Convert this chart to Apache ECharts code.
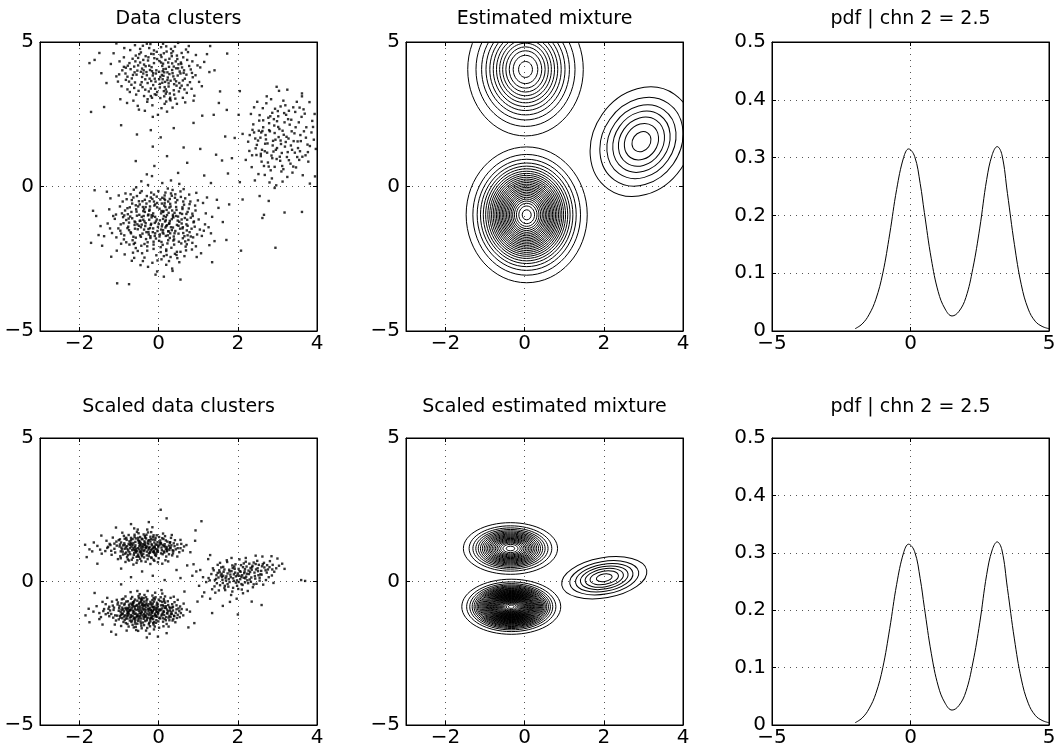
<!DOCTYPE html>
<html>
<head>
<meta charset="utf-8">
<script src="https://cdn.jsdelivr.net/npm/echarts@6/dist/echarts.min.js"></script>
<style>
  html, body { margin: 0; padding: 0; background: #fff; }
  #main { width: 1060px; height: 755px; }
</style>
</head>
<body>
<div id="main"></div>
<script>
// tick labels of the axes
const scatterXTicks = [-2, 0, 2, 4];
const scatterYTicks = [-5, 0, 5];
const pdfXTicks = [-5, 0, 5];
const pdfYTicks = [0, 0.1, 0.2, 0.3, 0.4, 0.5];

// raw data, three clusters
const rawA = [
[0.08,3.86],[-0.37,4.22],[0.54,3.41],[-0.12,4.71],[0.29,3.07],[-0.68,3.74],[0.17,4.38],[-0.25,3.29],[0.81,4.05],[-0.49,4.58],
[0.03,3.55],[0.41,4.84],[-0.83,4.11],[0.22,3.68],[-0.16,2.81],[0.63,3.93],[-0.57,3.18],[0.11,4.25],[-0.31,3.96],[1.02,3.62],
[-0.06,4.02],[0.35,2.73],[-0.94,3.47],[0.47,4.41],[-0.21,4.93],[0.71,3.24],[-0.43,3.61],[0.14,3.12],[-0.72,4.72],[0.26,4.14],
[-0.09,3.38],[0.58,4.62],[-0.35,2.62],[1.15,4.31],[-0.61,3.95],[0.05,4.55],[0.38,3.33],[-1.07,3.81],[0.19,2.94],[-0.27,4.36],
[0.86,3.78],[-0.52,4.19],[0.01,3.71],[0.44,4.09],[-0.79,3.36],[0.31,4.76],[-0.14,3.51],[0.67,2.91],[-0.4,4.87],[0.1,3.99],
[-0.88,4.47],[0.52,3.58],[-0.2,3.13],[0.94,4.55],[-0.64,2.97],[0.24,4.29],[-0.02,2.48],[0.37,3.81],[-1.21,4.24],[0.15,3.44],
[-0.46,3.52],[0.77,4.17],[-0.11,4.44],[0.28,3.22],[-0.59,4.33],[1.28,3.96],[-0.3,3.85],[0.06,4.82],[0.61,3.67],[-0.75,3.63],
[0.21,2.59],[-0.38,4.02],[0.49,4.97],[-0.97,3.02],[0.12,3.83],[-0.18,4.13],[0.83,3.38],[-0.53,2.79],[0.33,4.51],[-0.04,3.27],
[0.69,4.74],[-0.66,4.42],[0.16,3.62],[-1.32,3.58],[0.42,3.04],[-0.23,3.73],[0.98,4.19],[-0.45,4.64],[0.07,2.71],[0.56,4.29],
[-0.84,3.91],[0.27,3.89],[-0.13,4.58],[0.73,3.51],[-0.34,3.35],[1.41,4.02],[-0.71,4.06],[0.18,3.36],[-0.07,3.91],[0.46,2.86],
[-0.56,3.87],[0.34,4.03],[-1.14,4.61],[0.09,4.17],[0.62,4.47],[-0.28,3.02],[0.9,3.14],[-0.42,4.08],[0.2,4.67],[-0.8,2.89],
[0.4,3.71],[-0.15,2.41],[0.76,4.86],[-0.62,3.41],[0.02,4.34],[1.09,3.47],[-0.33,4.51],[0.3,2.98],[-0.99,4.33],[0.53,3.98],
[-0.19,3.65],[0.11,4.94],[-0.5,2.66],[0.85,4.33],[-0.24,4.18],[0.45,3.49],[-1.45,3.92],[0.18,4.07],[-0.73,3.27],[0.65,3.36],
[-0.04,4.41],[0.36,4.68],[-0.87,4.79],[0.25,3.57],[-0.39,3.91],[1.22,4.58],[-0.1,3.19],[0.59,4.12],[-0.6,4.89],[0.04,3.79],
[-0.29,2.93],[0.7,3.87],[-1.03,3.63],[0.5,4.23],[-0.17,3.99],[0.39,3.18],[-0.47,4.29],[0.88,2.97],[-0.78,4.18],[0.13,3.3],
[0.23,3.77],[-0.41,3.44],[0.57,4.24],[-0.08,3.63],[0.32,4.61],[-0.62,4.15],[0.14,3.95],[-0.26,4.47],[0.48,3.84],[-0.79,3.8],
[0.06,4.29],[0.39,3.54],[-0.54,4.01],[0.18,3.21],[-0.15,3.84],[0.72,4.38],[-0.34,3.71],[0.27,4.42],[-0.92,4.02],[0.03,3.43],
[0.61,3.07],[-0.47,4.76],[0.12,4.06],[-0.2,3.39],[0.84,3.93],[-0.69,3.52],[0.35,3.92],[-0.05,4.66],[0.46,4.53],[-0.37,3.13],
[0.09,3.59],[-0.58,4.53],[0.25,3.46],[-0.12,4.27],[0.66,3.73],[-0.3,4.94],[0.19,4.85],[-0.83,3.69],[0.51,3.29],[-0.22,4.03],
[0.01,3.97],[0.43,4.33],[-0.65,3.86],[0.15,2.86],[-0.45,3.97],[0.79,3.61],[-0.17,3.07],[0.3,3.66],[-1.0,3.88],[0.07,4.48],
[0.55,3.91],[-0.33,4.16],[0.2,3.28],[-0.74,4.27],[0.38,4.15],[-0.1,3.73],[0.93,3.85],[-0.51,3.31],[0.13,4.61],[-0.28,3.58],
[0.64,4.02],[-0.42,3.79],[0.28,3.02],[-0.06,3.17],[0.44,3.64],[-0.88,4.14],[0.1,3.71],[-0.24,4.79],[0.74,4.65],[-0.6,3.6],
[0.34,4.26],[-0.14,3.92],[0.58,3.49],[-0.39,4.38],[0.04,3.06],[1.05,4.12],[-0.52,4.45],[0.22,3.95],[-0.19,4.59],[0.49,4.09],
[-1.62,4.38],[-1.75,4.27],[-1.5,4.62],[1.55,3.29],[1.73,4.6],[-1.71,2.58],[-1.38,2.75],[1.1,2.45],[0.88,2.2],[-0.95,2.12],
[-0.2,1.95],[0.38,2.02],[1.3,4.86],[-1.07,4.95],[1.52,2.89],[-0.55,1.8],[0.63,1.35],[1.39,2.48],[1.05,1.3],[0.05,1.7]
];
const rawB = [
[0.12,-0.85],[-0.43,-1.32],[0.67,-0.41],[-0.21,-1.78],[0.35,-0.12],[-0.78,-0.96],[0.05,-2.10],[0.88,-1.24],[-0.55,-0.33],[0.24,-1.55],
[-0.09,-0.62],[0.51,-1.91],[-1.02,-1.45],[0.31,0.21],[-0.36,-2.46],[0.73,-0.88],[-0.18,-1.07],[1.12,-0.57],[-0.66,-1.86],[0.08,-1.38],
[-0.27,0.05],[0.44,-1.02],[-0.91,-0.52],[0.19,-2.71],[0.62,-1.61],[-0.48,-1.19],[1.35,-1.05],[-0.12,-0.28],[0.27,-0.73],[-1.25,-0.79],
[0.03,-1.66],[-0.58,-2.13],[0.95,-0.22],[-0.33,-0.71],[0.41,-2.33],[-0.75,-1.51],[0.16,-0.47],[0.58,-1.28],[-0.04,-2.94],[-1.38,-1.72],
[0.81,-1.73],[-0.22,-1.44],[0.36,-0.98],[-0.63,-0.11],[1.04,-1.49],[-0.14,-0.93],[0.22,-1.97],[-0.86,-2.35],[0.49,0.47],[-0.41,-1.63],
[0.68,-2.08],[-1.11,-1.12],[0.09,-0.39],[-0.29,-2.22],[0.93,-0.83],[-0.52,-0.69],[0.31,-1.41],[-0.07,-1.21],[1.28,-2.03],[-0.71,-0.27],
[0.15,-0.58],[-0.38,-1.02],[0.55,-0.17],[-0.95,-1.98],[0.26,-2.58],[-0.17,0.36],[0.72,-1.15],[-0.61,-1.33],[0.02,-0.77],[1.51,-0.74],
[-0.46,-2.72],[0.39,-1.83],[-1.22,-0.41],[0.11,-1.12],[0.64,-0.63],[-0.26,-1.58],[-0.82,-1.16],[0.47,-2.48],[-0.01,-0.16],[0.85,-1.95],
[-0.56,-0.87],[0.18,-1.71],[-0.35,-0.46],[1.17,-1.31],[-1.47,-1.37],[0.33,-0.32],[-0.13,-2.01],[0.59,-0.95],[-0.68,-2.57],[0.06,-1.49],
[-0.24,-0.84],[0.77,-0.28],[-0.87,-1.69],[0.28,-1.19],[-0.44,0.18],[0.97,-1.66],[-0.06,-2.38],[-0.53,-1.48],[0.43,-0.55],[1.41,-1.89],
[-0.19,-1.29],[0.54,-1.46],[-0.98,-0.69],[0.13,-3.12],[-0.31,-0.59],[0.69,-2.21],[-0.72,-1.04],[0.23,-0.07],[-1.58,-1.02],[0.37,-1.07],
[0.01,-1.88],[-0.47,-0.22],[0.86,-1.02],[-0.16,-2.64],[1.22,-0.38],[-0.64,-1.74],[0.29,-1.62],[-0.39,-1.15],[0.61,-1.79],[-1.06,-2.22],
[0.14,-0.66],[-0.28,-1.93],[0.78,-0.61],[-0.81,-0.44],[0.48,-1.18],[-0.11,0.71],[0.34,-2.84],[-0.59,-1.24],[1.07,-2.31],[-0.23,-0.51],
[0.21,-1.34],[-0.74,-2.01],[0.63,-0.09],[-0.34,-1.37],[0.07,-2.52],[-1.31,-0.18],[0.91,-1.39],[-0.49,-0.98],[0.25,-0.91],[-0.03,-1.54],
[0.52,-2.62],[-0.89,-1.27],[0.17,-0.21],[-0.42,-2.31],[1.62,-1.23],[-0.15,-1.02],[0.71,-1.52],[-0.67,-0.59],[0.38,-1.73],[-1.18,-1.61],
[0.04,-0.45],[-0.25,-1.66],[0.84,-2.18],[-0.57,-0.03],[0.45,-0.81],[-0.08,-3.05],[1.19,-0.93],[-0.77,-1.39],[0.32,-2.12],[-0.37,-0.78],
[0.66,-1.09],[-1.43,-2.05],[0.1,-1.59],[-0.2,-0.38],[0.57,-1.97],[-0.93,-0.93],[0.27,-1.27],[-0.62,-2.47],[0.99,-0.48],[-0.05,-1.14],
[0.42,-0.27],[-0.32,-1.82],[0.75,-1.85],[-0.84,-0.24],[0.19,-2.23],[-1.66,-0.84],[0.6,-0.72],[-0.45,-1.41],[0.09,0.12],[1.32,-1.62],
[-0.1,-1.71],[0.5,-1.36],[-0.7,-1.62],[0.3,-0.69],[-0.27,-2.78],[0.89,-1.21],[-1.01,-0.31],[0.13,-1.02],[-0.5,-0.51],[0.65,-2.41],
[-0.18,-0.99],[1.47,-0.46],[-0.6,-1.95],[0.24,-1.86],[-0.36,-1.21],[0.8,-0.52],[-1.2,-2.43],[0.0,-1.3],[0.4,-1.62],[-0.79,-0.75],
[0.56,-0.36],[-0.13,-2.16],[0.94,-2.07],[-0.43,-0.16],[0.17,-1.42],[-0.97,-1.53],[0.35,-2.92],[-0.22,-0.69],[1.09,-1.71],[-0.54,-1.31],
[0.28,-0.43],[-0.65,-2.29],[0.7,-0.95],[-0.09,-1.62],[-1.29,-1.28],[0.46,-2.26],[-0.3,0.42],[0.83,-1.46],[-0.76,-1.11],[0.11,-0.88],
[0.61,-1.41],[-0.4,-2.58],[1.26,-1.41],[-0.12,-0.52],[0.36,-1.04],[-0.88,-1.83],[0.2,-2.37],[-0.58,-0.65],[0.73,-1.69],[-1.52,-1.68],
[0.07,-1.92],[-0.26,-1.47],[0.52,0.09],[-0.69,-0.88],[0.33,-1.51],[-0.04,-0.57],[0.96,-2.44],[-0.45,-1.74],[0.18,-1.17],[-1.08,-0.97],
[0.18,-1.06],[-0.35,-0.88],[0.52,-1.22],[-0.14,-1.45],[0.29,-0.6],[-0.61,-1.21],[0.06,-0.93],[0.73,-1.36],[-0.47,-1.69],[0.15,-0.31],
[-0.24,-1.15],[0.42,-1.54],[-0.85,-0.83],[0.1,-2.02],[-0.04,-0.72],[0.6,-0.78],[-0.41,-0.51],[0.26,-1.29],[-0.71,-1.58],[0.37,-1.87],
[-0.16,-0.43],[0.81,-1.08],[-0.55,-1.01],[0.02,-1.73],[0.47,-0.47],[-0.29,-2.07],[0.2,-0.81],[-0.96,-1.31],[0.65,-1.72],[-0.1,-1.26],
[0.33,-1.13],[-0.64,-0.38],[0.11,-1.51],[-0.37,-1.49],[0.92,-0.66],[-0.19,-0.21],[0.55,-2.26],[-0.82,-1.93],[0.24,-0.52],[-0.07,-1.8],
[0.4,-0.91],[-0.5,-1.36],[0.08,-0.59],[-0.26,-0.97],[0.7,-1.31],[-1.15,-1.02],[0.16,-1.21],[-0.44,-2.05],[0.5,-1.63],[-0.02,-1.4],
[0.31,-0.24],[-0.73,-0.72],[0.13,-2.41],[-0.33,-1.27],[0.78,-1.58],[-0.58,-1.77],[0.21,-0.99],[-0.11,-0.66],[0.46,-1.33],[-0.9,-1.06],
[0.03,-1.17],[0.62,-0.52],[-0.39,-0.85],[0.28,-1.78],[-0.21,-1.72],[1.01,-1.14],[-0.67,-1.1],[0.17,-0.71],[-0.48,-0.62],[0.39,-2.01],
[-0.05,-0.35],[0.58,-1.14],[-0.79,-1.44],[0.25,-1.55],[-0.31,-1.58],[0.85,-0.94],[-1.07,-1.76],[0.09,-1.31],[-0.53,-2.23],[0.44,-0.71],
[-0.13,-1.91],[0.67,-1.9],[-0.43,-1.05],[0.19,-2.18],[-0.68,-0.47],[0.34,-0.83],[-0.23,-0.8],[0.76,-0.76],[-0.6,-1.46],[0.05,-2.27],
[0.49,-1.04],[-0.36,-1.99],[0.14,-0.42],[-0.87,-1.0],[0.6,-1.45],[-0.09,-1.05],[0.3,-2.44],[-0.46,-1.18],[1.14,-1.53],[-0.2,-1.33],
[0.23,-1.69],[-0.75,-1.25],[0.41,-0.39],[-0.03,-2.56],[-0.57,-0.79],[0.71,-2.0],[-0.3,-0.33],[0.12,-1.63],[-1.23,-1.45],[0.54,-0.92],
[-0.15,-1.58],[0.36,-1.42],[-0.63,-1.99],[0.87,-1.76],[-0.4,-0.71],[0.07,-0.85],[-0.95,-1.63],[0.45,-2.37],[-0.27,-1.0],[0.19,-1.37],
[1.78,-0.62],[-1.71,-1.95],[1.35,-2.62],[-1.05,-3.35],[-0.75,-3.38],[0.55,-3.22],[1.15,0.38],[-1.62,-0.13],[1.71,-1.85],[-0.58,0.88],
[0.21,1.05],[0.72,0.82],[-0.15,1.38],[1.32,0.12]
];
const rawC = [
[2.95,1.62],[3.31,2.14],[2.58,1.05],[3.12,0.71],[2.77,2.38],[3.52,1.33],[2.41,1.87],[3.08,2.77],[2.86,0.28],[3.67,1.91],
[2.69,1.48],[3.24,1.02],[2.33,2.51],[3.45,2.58],[2.9,1.21],[3.78,0.86],[2.52,0.43],[3.16,1.79],[2.73,3.12],[3.59,1.57],
[3.02,2.06],[2.45,1.32],[3.38,0.48],[2.81,1.91],[3.88,2.27],[2.63,2.71],[3.19,1.38],[2.2,0.92],[3.49,2.93],[2.98,0.95],
[3.28,1.66],[2.57,1.69],[3.71,1.08],[2.87,2.55],[3.13,0.17],[2.39,2.15],[3.61,2.41],[2.74,1.17],[3.04,3.31],[3.92,1.62],
[2.66,0.71],[3.35,2.31],[2.26,1.55],[3.09,1.47],[2.83,0.56],[3.55,0.92],[2.49,2.93],[3.22,2.48],[2.93,1.85],[3.81,2.92],
[2.61,1.27],[3.43,1.84],[2.97,0.04],[3.15,2.97],[2.35,0.67],[3.64,0.39],[2.79,2.19],[3.26,1.19],[2.54,2.28],[3.97,1.3],
[3.06,1.03],[2.71,1.63],[3.4,2.74],[2.88,1.42],[2.12,1.82],[3.51,1.56],[2.76,0.83],[3.18,2.22],[3.73,2.05],[2.47,1.09],
[3.33,0.79],[2.91,2.33],[3.57,1.22],[2.64,2.05],[3.1,0.52],[3.86,1.87],[2.43,0.21],[3.29,2.62],[2.99,1.33],[3.66,2.67],
[2.59,1.87],[3.21,1.54],[2.84,3.02],[3.47,0.66],[2.29,1.23],[3.02,2.43],[3.76,1.45],[2.68,0.4],[3.36,1.91],[2.94,2.69],
[3.62,3.12],[2.51,1.59],[3.11,1.16],[2.8,0.14],[3.94,2.51],[2.37,1.96],[3.44,1.17],[3.05,1.99],[2.72,2.88],[3.25,0.33],
[3.03,1.71],[2.62,1.92],[3.37,1.27],[2.85,1.07],[3.54,2.22],[2.48,1.44],[3.17,2.54],[2.78,0.69],[3.72,1.69],[2.92,2.11],
[3.29,0.91],[2.55,2.47],[3.63,1.03],[2.7,1.78],[3.13,1.93],[2.36,1.08],[3.46,2.05],[2.89,1.58],[3.82,1.4],[2.6,0.86],
[3.2,2.81],[2.96,1.27],[3.58,1.78],[2.44,1.66],[3.07,0.89],[2.82,2.43],[3.41,1.57],[2.68,1.22],[3.9,2.06],[2.99,2.26],
[3.34,1.42],[2.53,1.93],[3.15,0.6],[2.75,1.49],[3.69,2.52],[2.41,2.74],[3.23,1.72],[2.87,0.98],[3.5,1.02],[2.64,2.29],
[3.08,1.59],[3.77,1.19],[2.3,1.78],[3.27,2.33],[2.93,0.68],[3.56,2.73],[2.58,1.13],[3.01,2.61],[3.4,0.69],[2.79,1.95],
[3.25,3.35],[3.62,3.22],[2.98,3.45],[2.02,2.48],[1.92,1.68],[1.85,0.98],[2.05,0.15],[2.12,-0.45],[2.66,-0.98],[2.62,-1.09],
[2.95,-2.12],[2.08,-2.22],[3.62,-0.88],[3.18,-0.9],[2.78,-0.5],[1.6,0.9],[1.45,1.1],[1.72,2.65],[1.68,1.73],[2.05,3.3],
[3.95,0.35],[2.93,-0.05],[2.55,-0.33],[3.82,0.1],[1.75,0.45]
];

// scaled data, three clusters
const scaledA = [
[-0.31,1.18],[-0.72,0.95],[0.05,1.34],[-0.52,1.52],[-0.18,0.82],[-0.86,1.27],[0.21,1.05],[-0.44,0.71],[-0.05,1.61],[-0.63,1.11],
[-0.27,1.42],[0.34,0.91],[-0.97,0.88],[-0.12,1.21],[-0.55,1.73],[0.12,1.48],[-0.39,0.96],[-0.81,1.45],[-0.02,0.67],[-0.48,1.29],
[0.26,1.25],[-0.68,0.76],[-0.22,1.02],[-1.12,1.14],[-0.35,1.58],[0.43,1.12],[-0.59,1.38],[-0.09,0.93],[-0.76,1.62],[0.08,1.09],
[-0.41,1.24],[-0.91,1.04],[0.17,0.74],[-0.29,1.81],[-0.64,0.59],[0.02,1.28],[-0.46,1.07],[-1.24,1.31],[-0.15,1.46],[0.38,1.33],
[-0.53,0.89],[-0.83,1.19],[-0.21,0.61],[0.11,1.67],[-0.7,1.44],[-0.37,0.84],[0.29,1.17],[-1.03,0.78],[-0.06,1.13],[-0.51,1.68],
[-0.26,1.31],[0.52,1.02],[-0.78,0.92],[-0.14,1.55],[-0.6,1.2],[0.19,0.87],[-0.43,1.49],[-1.35,1.06],[-0.03,1.37],[-0.88,1.59],
[-0.33,0.69],[0.07,1.18],[-0.57,1.01],[-0.19,1.72],[-0.95,1.36],[0.31,1.52],[-0.47,0.79],[-0.11,0.99],[-0.73,1.27],[0.64,1.22],
[-0.36,1.09],[-1.16,1.53],[0.0,0.81],[-0.62,1.85],[-0.24,1.16],[0.22,1.39],[-0.84,0.68],[-0.45,1.33],[-0.08,1.52],[-0.52,0.94],
[0.14,1.01],[-0.99,1.22],[-0.3,0.91],[0.41,1.44],[-0.67,1.09],[-0.17,1.26],[-1.44,0.97],[-0.38,1.64],[0.09,0.62],[-0.79,1.13],
[-0.5,1.41],[0.27,1.1],[-0.13,0.76],[-0.92,1.7],[-0.28,1.35],[0.57,1.31],[-0.65,0.83],[-0.04,1.04],[-1.07,1.39],[-0.4,1.19],
[0.16,1.58],[-0.74,1.02],[-0.2,1.48],[-0.56,0.65],[0.36,0.98],[-0.87,1.33],[-0.1,1.15],[-1.28,1.21],[-0.42,0.88],[0.04,1.43],
[-0.61,1.56],[-0.25,0.97],[0.48,1.16],[-0.8,0.85],[-0.34,1.27],[-1.55,1.24],[0.13,1.23],[-0.49,1.12],[-0.16,1.89],[-0.71,1.35],
[0.24,0.7],[-0.93,1.12],[-0.32,1.5],[-0.07,0.89],[-0.58,1.05],[0.7,1.27],[-1.19,0.93],[-0.23,1.2],[0.06,1.32],[-0.66,1.48],
[-0.44,1.02],[0.33,1.62],[-1.01,1.44],[-0.12,1.07],[-0.54,0.74],[0.18,1.14],[-0.85,0.97],[-0.31,1.63],[-1.64,1.36],[0.47,0.87],
[-0.01,1.24],[-0.69,1.22],[-0.19,0.84],[-1.1,1.01],[0.28,1.35],[-0.47,1.55],[-0.77,1.08],[0.1,0.95],[-0.36,1.4],[-0.96,0.81],
[-0.26,1.11],[0.55,1.45],[-0.62,0.99],[-1.32,1.42],[-0.08,1.29],[-0.5,0.86],[0.2,1.2],[-0.82,1.52],[-0.4,1.3],[0.37,1.06],
[-1.22,1.27],[-0.15,1.03],[-0.59,1.26],[0.01,1.55],[-0.75,0.73],[-0.33,1.16],[0.61,1.08],[-0.98,1.47],[-0.21,1.39],[-0.45,0.98],
[-1.48,1.11],[0.15,1.3],[-0.64,1.17],[-0.11,0.72],[0.8,1.02],[-0.9,1.26],[-0.28,0.78],[0.32,1.26],[-0.53,1.81],[-1.75,1.12],
[-0.38,1.06],[-0.69,1.31],[-0.06,0.97],[-0.49,1.22],[-0.21,1.56],[-0.82,1.01],[0.16,1.22],[-0.43,0.92],[-0.11,1.36],[-0.61,1.63],
[-0.3,1.04],[0.29,1.37],[-0.94,1.18],[-0.17,1.12],[-0.56,0.86],[0.09,1.51],[-0.35,1.35],[-0.78,0.77],[-0.01,1.19],[-0.52,1.44],
[0.22,1.14],[-0.66,1.27],[-0.25,0.88],[-1.06,1.25],[-0.41,1.47],[0.4,1.23],[-0.57,1.13],[-0.13,1.61],[-0.74,1.4],[0.06,0.98],
[-0.46,1.26],[-0.86,1.49],[0.13,1.05],[-0.27,1.71],[-0.63,0.93],[-0.03,1.1],[-0.44,1.18],[-1.2,1.07],[-0.18,1.3],[0.35,1.09],
[-0.5,1.35],[-0.8,1.23],[-0.23,1.0],[0.1,1.27],[-0.72,1.16],[-0.34,1.53],[0.26,0.95],[-0.98,1.29],[-0.09,1.45],[-0.55,1.06],
[-0.29,1.22],[0.47,1.29],[-0.76,1.31],[-0.15,1.17],[-0.58,1.5],[0.18,1.43],[-0.42,1.11],[-1.3,1.17],[-0.05,1.28],[-0.9,0.94],
[-0.36,1.28],[0.03,1.36],[-0.6,1.08],[-0.2,1.09],[-0.96,1.05],[0.3,1.18],[-0.48,1.03],[-0.1,1.21],[-0.7,1.52],[0.55,1.16],
[-0.33,1.21],[-1.12,1.32],[-0.02,1.05],[-0.64,1.34],[-0.24,1.44],[0.2,1.08],[-0.86,1.14],[-0.47,1.39],[-0.12,1.03],[-0.53,1.16],
[-1.82,0.85],[-1.86,1.28],[-1.68,1.05],[0.92,1.42],[1.08,2.1],[0.93,1.78],[0.2,2.2],[0.05,2.5],[-0.25,2.07],[-0.7,2.0],
[-1.08,1.88],[-1.45,1.6],[0.72,0.56],[0.45,0.4],[-0.95,0.45],[-0.42,0.35],[1.25,0.78],[1.3,0.92],[0.88,0.6],[-1.55,0.62]
];
const scaledB = [
[-0.35,-0.82],[-0.78,-1.06],[0.04,-0.68],[-0.51,-1.31],[-0.16,-0.49],[-0.92,-0.91],[0.22,-1.12],[-0.43,-0.56],[-0.07,-1.44],[-0.64,-0.75],
[-0.26,-1.03],[0.36,-0.88],[-1.05,-1.19],[-0.11,-0.95],[-0.58,-1.58],[0.13,-0.61],[-0.38,-1.24],[-0.84,-0.52],[-0.01,-1.08],[-0.47,-0.87],
[0.27,-1.35],[-0.69,-1.41],[-0.21,-0.71],[-1.16,-0.84],[-0.32,-1.71],[0.45,-0.97],[-0.6,-0.63],[-0.08,-1.22],[-0.77,-1.19],[0.09,-0.42],
[-0.42,-1.06],[-0.95,-1.55],[0.18,-0.86],[-0.28,-0.33],[-0.65,-1.02],[0.01,-1.61],[-0.49,-0.74],[-1.28,-1.1],[-0.14,-1.31],[0.39,-1.19],
[-0.54,-1.47],[-0.86,-0.77],[-0.2,-0.99],[0.12,-1.03],[-0.71,-0.37],[-0.37,-1.52],[0.3,-0.57],[-1.01,-1.32],[-0.05,-0.81],[-0.52,-0.96],
[-0.25,-1.16],[0.53,-1.24],[-0.79,-1.29],[-0.13,-0.58],[-0.61,-1.13],[0.2,-1.48],[-0.44,-0.67],[-1.38,-0.96],[-0.02,-1.14],[-0.89,-0.6],
[-0.33,-0.9],[0.07,-0.3],[-0.57,-1.69],[-0.18,-0.83],[-0.96,-1.07],[0.32,-1.06],[-0.46,-1.39],[-0.1,-1.57],[-0.74,-0.88],[0.63,-0.77],
[-0.36,-0.47],[-1.18,-0.7],[-0.03,-0.97],[-0.63,-1.26],[-0.23,-1.82],[0.23,-0.69],[-0.83,-1.45],[-0.45,-1.01],[-0.09,-0.39],[-0.53,-1.21],
[0.15,-0.92],[-1.0,-0.93],[-0.3,-1.35],[0.42,-1.42],[-0.67,-0.54],[-0.17,-1.09],[-1.46,-1.24],[-0.39,-0.78],[0.1,-1.28],[-0.8,-1.12],
[-0.5,-0.58],[0.28,-1.01],[-0.12,-1.67],[-0.94,-0.99],[-0.29,-0.62],[0.56,-1.1],[-0.66,-1.51],[-0.04,-0.74],[-1.08,-1.36],[-0.41,-1.18],
[0.16,-0.52],[-0.75,-0.81],[-0.2,-1.27],[-0.56,-0.99],[0.37,-1.31],[-0.88,-1.22],[-0.11,-0.88],[-1.3,-0.57],[-0.43,-1.63],[0.05,-1.0],
[-0.62,-0.69],[-0.24,-1.44],[0.48,-0.64],[-0.81,-1.71],[-0.34,-1.07],[-1.57,-0.86],[0.14,-1.17],[-0.48,-0.44],[-0.15,-1.03],[-0.72,-1.01],
[0.25,-1.57],[-0.93,-0.62],[-0.31,-0.76],[-0.06,-1.35],[-0.59,-1.33],[0.71,-0.98],[-1.2,-1.13],[-0.22,-0.92],[0.06,-0.83],[-0.68,-0.91],
[-0.45,-1.29],[0.34,-0.79],[-1.03,-0.73],[-0.13,-1.5],[-0.55,-0.82],[0.19,-1.24],[-0.86,-1.34],[-0.32,-0.55],[-1.65,-1.05],[0.46,-1.27],
[0.0,-0.63],[-0.7,-1.17],[-0.19,-1.17],[-1.11,-1.5],[0.29,-0.93],[-0.47,-0.94],[-0.78,-0.69],[0.11,-1.4],[-0.37,-1.14],[-0.97,-1.26],
[-0.27,-0.86],[0.54,-0.87],[-0.63,-1.6],[-1.34,-0.79],[-0.07,-1.19],[-0.51,-0.51],[0.21,-1.09],[-0.83,-0.97],[-0.4,-1.43],[0.38,-0.53],
[-1.23,-1.01],[-0.16,-0.65],[-0.6,-0.96],[0.02,-1.26],[-0.76,-1.57],[-0.34,-1.23],[0.62,-1.18],[-0.99,-0.85],[-0.22,-1.56],[-0.46,-0.71],
[-1.5,-1.31],[0.16,-0.74],[-0.65,-1.1],[-0.1,-1.12],[0.79,-1.05],[-0.91,-1.12],[-0.29,-1.62],[0.31,-1.14],[-0.54,-0.33],[-1.77,-0.95],
[-0.39,-0.98],[-0.85,-1.18],[0.08,-0.94],[-0.58,-0.85],[-0.15,-0.77],[-0.73,-1.36],[0.24,-0.82],[-0.3,-1.28],[-1.14,-0.99],[-0.48,-1.09],
[-0.04,-1.06],[-0.66,-0.78],[0.43,-1.09],[-0.21,-1.39],[-0.89,-1.41],[-0.42,-0.63],[0.12,-1.56],[-0.6,-1.4],[-1.25,-1.21],[-0.25,-0.97],
[-0.08,-0.55],[-0.53,-1.15],[0.35,-1.36],[-0.79,-0.92],[-0.37,-0.7],[-1.06,-0.64],[0.03,-1.29],[-0.7,-1.23],[-0.18,-1.24],[0.5,-0.94],
[-0.95,-1.16],[-0.44,-1.54],[-0.14,-0.9],[-0.62,-1.05],[0.27,-1.2],[-1.42,-0.71],[-0.33,-1.0],[0.09,-0.71],[-0.76,-1.14],[-0.52,-1.72],
[-0.4,-0.86],[-0.73,-0.98],[0.01,-1.01],[-0.55,-1.19],[-0.19,-0.77],[-0.88,-1.04],[0.18,-0.92],[-0.45,-0.61],[-0.09,-1.16],[-0.67,-0.82],
[-0.29,-1.12],[0.33,-1.13],[-1.01,-1.02],[-0.14,-1.21],[-0.6,-1.27],[0.1,-0.82],[-0.36,-0.97],[-0.82,-0.7],[-0.03,-0.89],[-0.5,-0.79],
[0.24,-1.04],[-0.72,-1.26],[-0.24,-0.79],[-1.13,-0.91],[-0.34,-1.38],[0.4,-0.72],[-0.61,-0.89],[-0.07,-0.99],[-0.8,-1.01],[0.07,-1.19],
[-0.44,-1.1],[-0.92,-1.28],[0.15,-1.3],[-0.31,-0.67],[-0.66,-1.2],[-0.01,-1.39],[-0.5,-1.02],[-1.25,-0.88],[-0.17,-1.07],[0.36,-1.01],
[-0.56,-1.24],[-0.84,-0.92],[-0.22,-1.32],[0.1,-1.11],[-0.7,-0.6],[-0.38,-1.3],[0.27,-0.89],[-0.98,-1.2],[-0.06,-0.92],[-0.54,-0.67],
[-0.27,-0.95],[0.48,-1.16],[-0.77,-1.09],[-0.12,-0.7],[-0.63,-1.31],[0.18,-1.35],[-0.42,-0.82],[-1.34,-1.14],[-0.04,-1.23],[-0.87,-0.81],
[-0.35,-1.18],[0.05,-0.55],[-0.59,-1.47],[-0.2,-1.01],[-0.94,-0.76],[0.3,-1.24],[-0.47,-1.21],[-0.12,-1.41],[-0.75,-1.04],[0.58,-0.96],
[-0.38,-0.58],[-1.15,-1.26],[-0.02,-0.8],[-0.65,-0.72],[-0.25,-1.49],[0.21,-0.98],[-0.81,-1.21],[-0.46,-1.14],[-0.1,-0.62],[-0.52,-1.37],
[0.13,-1.06],[-1.04,-0.8],[-0.32,-1.2],[0.39,-1.21],[-0.69,-0.98],[-0.18,-1.29],[-1.4,-1.03],[-0.41,-0.93],[0.08,-1.15],[-0.83,-1.29],
[-0.52,-0.88],[0.25,-1.26],[-0.14,-1.45],[-0.92,-1.13],[-0.3,-0.81],[0.52,-1.03],[-0.68,-1.36],[-0.06,-1.06],[-1.1,-1.18],[-0.43,-0.76],
[0.14,-0.68],[-0.77,-0.95],[-0.23,-1.1],[-0.58,-1.12],[0.34,-0.91],[-0.9,-0.97],[-0.13,-0.99],[-1.27,-0.95],[-0.45,-1.46],[0.03,-0.97],
[-0.64,-0.86],[-0.26,-1.26],[0.45,-0.83],[-0.79,-1.48],[-0.36,-0.84],[-1.5,-1.1],[0.12,-0.86],[-0.49,-1.25],[-0.16,-0.88],[-0.71,-0.77],
[-1.75,-1.42],[-1.85,-1.18],[-1.2,-1.75],[-1.08,-1.85],[-0.02,-1.92],[0.2,-1.8],[0.9,-1.45],[0.98,-0.7],[1.1,-0.52],[0.65,-0.35],
[-0.95,-0.1],[-0.7,0.15],[-0.15,0.2],[0.15,0.05],[0.55,0.12],[1.35,-1.1],[-1.42,-1.5],[0.75,-1.6],[-0.3,-1.95],[-1.62,-0.4]
];
const scaledC = [
[1.95,0.18],[2.31,0.33],[1.62,-0.05],[2.12,-0.12],[1.78,0.41],[2.52,0.22],[1.41,-0.17],[2.08,0.57],[1.86,-0.35],[2.67,0.49],
[1.69,0.12],[2.24,0.04],[1.33,0.26],[2.45,0.61],[1.9,0.02],[2.78,0.15],[1.52,-0.31],[2.16,0.29],[1.73,0.68],[2.59,0.37],
[2.02,0.44],[1.45,0.09],[2.38,-0.2],[1.81,0.24],[2.88,0.58],[1.63,0.51],[2.19,0.11],[1.2,-0.02],[2.49,0.72],[1.98,-0.15],
[2.28,0.26],[1.57,0.21],[2.71,0.05],[1.87,0.47],[2.13,-0.41],[1.39,0.39],[2.61,0.53],[1.74,-0.09],[2.04,0.77],[2.92,0.34],
[1.66,-0.23],[2.35,0.41],[1.26,0.12],[2.09,0.16],[1.83,-0.47],[2.55,0.03],[1.49,0.58],[2.22,0.52],[1.93,0.31],[2.81,0.71],
[1.61,0.06],[2.43,0.19],[1.97,-0.6],[2.15,0.63],[1.35,-0.27],[2.64,-0.11],[1.79,0.35],[2.26,-0.06],[1.54,0.32],[2.97,0.46],
[2.06,0.08],[1.71,0.18],[2.4,0.66],[1.88,0.11],[1.12,0.15],[2.51,0.36],[1.76,-0.18],[2.18,0.43],[2.73,0.31],[1.47,-0.06],
[2.33,-0.01],[1.91,0.52],[2.57,0.25],[1.64,0.34],[2.1,-0.28],[2.86,0.21],[1.43,-0.39],[2.29,0.62],[1.99,0.21],[2.66,0.65],
[1.59,0.27],[2.21,0.17],[1.84,0.82],[2.47,-0.08],[1.29,0.04],[2.02,-0.02],[2.76,0.42],[1.68,-0.3],[2.36,0.5],[1.94,0.6],
[2.62,0.87],[1.51,0.14],[2.11,0.22],[1.8,-0.71],[3.04,0.55],[1.37,0.46],[2.44,0.1],[2.05,0.36],[1.72,0.74],[2.25,-0.33],
[2.04,0.2],[1.7,0.03],[2.34,0.14],[1.84,0.36],[2.5,0.46],[1.55,-0.13],[2.18,-0.03],[1.92,0.44],[2.7,0.39],[1.46,0.22],
[2.27,0.38],[1.77,0.08],[2.42,0.31],[1.98,0.04],[2.63,0.6],[1.6,0.16],[2.13,0.5],[1.88,-0.22],[2.55,0.13],[1.66,0.42],
[2.23,0.27],[1.42,0.05],[2.37,0.55],[2.0,0.28],[2.8,0.5],[1.74,0.28],[2.09,-0.09],[1.53,0.39],[2.46,0.42],[1.95,-0.04],
[2.3,0.07],[1.82,0.15],[2.6,0.24],[1.67,-0.15],[2.15,0.13],[2.74,0.57],[1.49,0.3],[2.2,0.69],[1.9,0.25],[2.4,-0.1],
[1.58,0.49],[2.07,0.34],[2.53,0.58],[1.79,-0.02],[2.32,0.47],[2.01,-0.26],[1.63,0.2],[2.87,0.42],[2.17,0.35],[1.86,0.56],
[3.12,0.62],[3.18,0.44],[3.6,0.05],[3.7,0.02],[2.2,0.82],[2.85,0.88],[2.9,-0.05],[1.05,0.4],[1.02,-0.15],[0.95,0.35],
[1.3,-0.6],[1.62,-0.85],[2.0,-1.15],[2.6,-0.82],[2.35,-0.7],[3.0,0.8],[1.15,-0.38],[0.85,0.2],[1.55,0.65],[2.45,0.9]
];

// estimated mixture: component centres, outer contour radii, tilt (deg), contour ring fractions
const ringsA = [1, .857, .760, .684, .618, .558, .502, .448, .395, .340, .281, .213, .120];
const ringsB = [1, .889, .818, .763, .717, .678, .642, .610, .581, .553, .526, .500, .476, .451, .428, .404, .381, .358, .334, .310, .285, .259, .232, .203, .170, .130, .074];
const ringsC = [1, .81, .674, .559, .449, .333, .185];
const ringsD = [1, .902, .839, .791, .752, .718, .689, .662, .637, .615, .593, .573, .554, .536, .518, .501, .484, .468, .452, .437, .421, .406, .391, .376, .361, .346, .331, .316, .300, .285, .269, .253, .235, .217, .199, .179, .156, .131, .101, .058];
const ringsE = [1, .878, .798, .736, .684, .638, .597, .558, .522, .488, .454, .421, .389, .355, .322, .287, .249, .208, .159, .090];

const mixCenters = [[0.02, 4.05], [0.05, -0.98], [2.95, 1.55]];
const mixRadii = [[1.46, 2.3], [1.53, 2.35], [1.21, 2.0]];
const mixTilt = [0, 0, -35];
const mixRings = [ringsA, ringsB, ringsC];

const scaledMixCenters = [[-0.36, 1.15], [-0.34, -0.88], [2.01, 0.13]];
const scaledMixRadii = [[1.19, 0.9], [1.25, 0.96], [1.09, 0.7]];
const scaledMixTilt = [0, 0, 10];
const scaledMixRings = [ringsE, ringsD, ringsC];

// conditional pdf
const pdfX = [-2, -1.75, -1.5, -1.25, -1, -0.75, -0.5, -0.25, -0.07, 0.15, 0.35, 0.5, 0.75, 1, 1.25, 1.5, 1.75, 2, 2.25, 2.5, 2.75, 2.95, 3.13, 3.3, 3.5, 3.75, 4, 4.25, 4.5, 4.75, 5];
const pdfY = [0.004, 0.012, 0.028, 0.055, 0.100, 0.168, 0.245, 0.300, 0.315, 0.302, 0.255, 0.205, 0.125, 0.068, 0.038, 0.026, 0.034, 0.058, 0.108, 0.178, 0.262, 0.305, 0.319, 0.305, 0.238, 0.150, 0.080, 0.038, 0.017, 0.008, 0.004];

const titles = ['Data clusters', 'Estimated mixture', 'pdf | chn 2 = 2.5',
                'Scaled data clusters', 'Scaled estimated mixture', 'pdf | chn 2 = 2.5'];

const FONT = "'DejaVu Sans', 'Liberation Sans', Arial, sans-serif";
const colLeft = [40, 406, 772];
const rowTop = [42, 438];
const rowHeight = [289, 287];
const panelWidth = 277;

function minus(v) {
  return String(v).replace('-', '\u2212');
}

function ringData(centers, radii, tilt, rings) {
  const out = [];
  centers.forEach(function (c, i) {
    rings[i].forEach(function (f) {
      out.push([c[0], c[1], radii[i][0] * f, radii[i][1] * f, tilt[i]]);
    });
  });
  return out;
}

function ringItem(params, api) {
  const c = api.coord([api.value(0), api.value(1)]);
  const s = api.size([api.value(2), api.value(3)]);
  return {
    type: 'ellipse',
    x: c[0],
    y: c[1],
    rotation: api.value(4) * Math.PI / 180,
    shape: { cx: 0, cy: 0, rx: s[0], ry: s[1] },
    style: { fill: 'none', stroke: '#000', lineWidth: 1 }
  };
}

const grid = [], xAxis = [], yAxis = [], title = [];
for (let p = 0; p < 6; p++) {
  const r = Math.floor(p / 3), c = p % 3;
  const isPdf = c === 2;
  const xr = isPdf ? [-5, 5] : [-3, 4];
  const yr = isPdf ? [0, 0.5] : [-5, 5];
  const xt = isPdf ? pdfXTicks : scatterXTicks;
  const yt = isPdf ? pdfYTicks : scatterYTicks;

  grid.push({
    left: colLeft[c], top: rowTop[r], width: panelWidth, height: rowHeight[r],
    show: true, borderColor: '#000', borderWidth: 1
  });
  title.push({
    text: titles[p],
    left: colLeft[c] + panelWidth / 2,
    top: r === 0 ? 10 : 398,
    textAlign: 'center',
    padding: 0,
    textStyle: { fontFamily: FONT, fontSize: 19, fontWeight: 'normal', color: '#000' }
  });

  const tickStyle = { color: '#000', width: 1 };
  const dotted = { show: true, lineStyle: { color: '#555', width: 1, type: [1, 5] } };
  const label = { color: '#000', fontFamily: FONT, fontSize: 20, formatter: minus };

  xAxis.push({
    gridIndex: p, type: 'value', position: 'bottom', min: xr[0], max: xr[1],
    axisLine: { show: true, onZero: false, lineStyle: tickStyle },
    axisTick: { show: true, inside: true, length: 4, customValues: xt, lineStyle: tickStyle },
    axisLabel: Object.assign({ customValues: xt, margin: 3 }, label),
    splitLine: dotted
  });
  xAxis.push({
    gridIndex: p, type: 'value', position: 'top', min: xr[0], max: xr[1],
    axisLine: { show: true, onZero: false, lineStyle: tickStyle },
    axisTick: { show: true, inside: true, length: 4, customValues: xt, lineStyle: tickStyle },
    axisLabel: { show: false },
    splitLine: { show: false }
  });
  yAxis.push({
    gridIndex: p, type: 'value', position: 'left', min: yr[0], max: yr[1],
    axisLine: { show: true, onZero: false, lineStyle: tickStyle },
    axisTick: { show: true, inside: true, length: 4, customValues: yt, lineStyle: tickStyle },
    axisLabel: Object.assign({ customValues: yt, margin: 6 }, label),
    splitLine: dotted
  });
  yAxis.push({
    gridIndex: p, type: 'value', position: 'right', min: yr[0], max: yr[1],
    axisLine: { show: true, onZero: false, lineStyle: tickStyle },
    axisTick: { show: true, inside: true, length: 4, customValues: yt, lineStyle: tickStyle },
    axisLabel: { show: false },
    splitLine: { show: false }
  });
}

function dots(p, data) {
  return {
    type: 'scatter', xAxisIndex: 2 * p, yAxisIndex: 2 * p,
    symbol: 'rect', symbolSize: 2.4, silent: true, clip: true,
    itemStyle: { color: '#000' },
    data: data
  };
}
function rings(p, data) {
  return {
    type: 'custom', xAxisIndex: 2 * p, yAxisIndex: 2 * p,
    clip: true, silent: true, renderItem: ringItem, data: data
  };
}
function pdfLine(p) {
  return {
    type: 'line', xAxisIndex: 2 * p, yAxisIndex: 2 * p,
    showSymbol: false, smooth: 0.4, silent: true, clip: true,
    lineStyle: { color: '#000', width: 1 },
    data: pdfX.map(function (x, i) { return [x, pdfY[i]]; })
  };
}

const chart = echarts.init(document.getElementById('main'), null, { renderer: 'canvas' });
chart.setOption({
  animation: false,
  backgroundColor: '#fff',
  title: title,
  grid: grid,
  xAxis: xAxis,
  yAxis: yAxis,
  series: [
    dots(0, rawA.concat(rawB, rawC)),
    rings(1, ringData(mixCenters, mixRadii, mixTilt, mixRings)),
    pdfLine(2),
    dots(3, scaledA.concat(scaledB, scaledC)),
    rings(4, ringData(scaledMixCenters, scaledMixRadii, scaledMixTilt, scaledMixRings)),
    pdfLine(5)
  ]
});
</script>
</body>
</html>
